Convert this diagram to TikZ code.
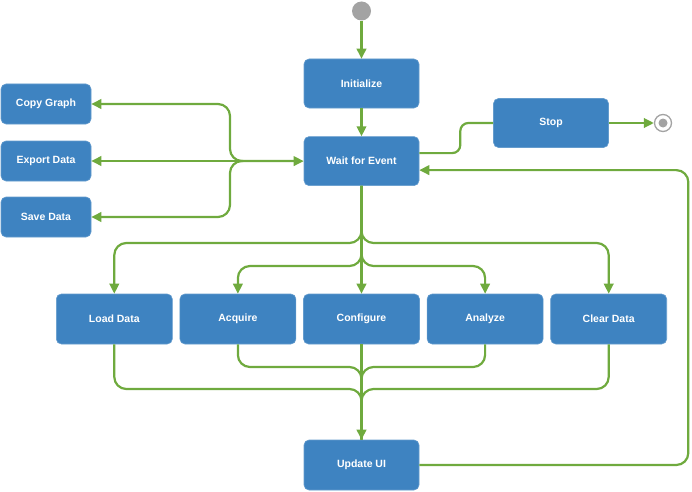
\documentclass[tikz,border=0pt]{standalone}
\usepackage{fontspec}
\setmainfont{Liberation Sans}
\usepackage{tikz}
\usetikzlibrary{arrows.meta,positioning,calc}
\usepackage{xcolor}
\definecolor{boxblue}{HTML}{3E83C1}
\definecolor{linegreen}{HTML}{6FAA3E}
\definecolor{dotgray}{HTML}{A3A3A3}

\begin{document}
\begin{tikzpicture}[x=1pt,y=1pt,
  every node/.style={align=center,font=\fontsize{10.5}{12}\selectfont\bfseries},%
  b/.style={rectangle,rounded corners=5pt,fill=boxblue,draw=boxblue!80!white,
    line width=0.6pt,text=white,minimum width=115pt,minimum height=49pt},%
  s/.style={b,minimum width=90pt,minimum height=40pt},%
  l/.style={linegreen,line width=2.2pt,rounded corners=12pt},%
  e/.style={l,-{Triangle[length=10pt,width=9.5pt]}},%
  ]
  \useasboundingbox (0,0) rectangle (692,491);

  \node (start) [circle,fill=dotgray,minimum size=19pt,inner sep=0pt] at (361.5,480) {};

  \node (init) [b] at (361.5,407.5) {Initialize};
  \node (wait) [b,below=28pt of init] {Wait for Event};
  \node (stop) [b] at (551,368) {Stop};

  \node (final) [circle,draw=dotgray,fill=white,line width=1.3pt,
  minimum size=17pt,inner sep=0pt] at (663,368) {};
  \fill [dotgray] (final.center) circle (4.5pt);

  % left column
  \node (copy) [s] at (46,387) {Copy Graph};
  \node (export) [s] at (46,330) {Export Data};
  \node (save) [s] at (46,274) {Save Data};

  % row of actions
  \node (configure) [b,minimum width=116pt,minimum height=50pt] at (361.5,172) {Configure};
  \node (acquire) [b,minimum width=116pt,minimum height=50pt,left=7pt of configure] {Acquire};
  \node (load) [b,minimum width=116pt,minimum height=50pt,left=7pt of acquire] {Load Data};
  \node (analyze) [b,minimum width=116pt,minimum height=50pt,right=7pt of configure] {Analyze};
  \node (clear) [b,minimum width=116pt,minimum height=50pt,right=7pt of analyze] {Clear Data};

  \node (update) [b,minimum height=50pt] at (361.5,26) {Update UI};

  \coordinate (hub) at (243,330);
  \coordinate (fanA) at (361.5,248);
  \coordinate (fanB) at (361.5,225);
  \coordinate (joinA) at (361.5,102);
  \coordinate (joinB) at (361.5,124);

  \draw [e] (start) -- (init);
  \draw [e] (init) -- (wait);
  \draw [l,rounded corners=8pt] ([yshift=8pt]wait.east) -- ++(41,0) |- (stop.west);
  \draw [e] (stop) -- (final);

  \draw [e] (hub) -- (wait.west);
  \draw [e] (hub) -- (export.east);
  \draw [e] (hub) -- ++(-13,0) |- (copy.east);
  \draw [e] (hub) -- ++(-13,0) |- (save.east);

  \draw [e] (wait.south) -- (fanA) -| (load.north);
  \draw [e] (wait.south) -- (fanA) -| (clear.north);
  \draw [e] (wait.south) -- (fanB) -| (acquire.north);
  \draw [e] (wait.south) -- (fanB) -| (analyze.north);
  \draw [e] (wait.south) -- (configure.north);

  \draw [l] (load.south) |- (joinA) -- (update.north);
  \draw [l] (clear.south) |- (joinA) -- (update.north);
  \draw [l] (acquire.south) |- (joinB) -- (update.north);
  \draw [l] (analyze.south) |- (joinB) -- (update.north);
  \draw [e] (configure.south) -- (update.north);

  \draw [e] (update.east) -- ++(269,0) |- ([yshift=-9pt]wait.east);
\end{tikzpicture}
\end{document}
